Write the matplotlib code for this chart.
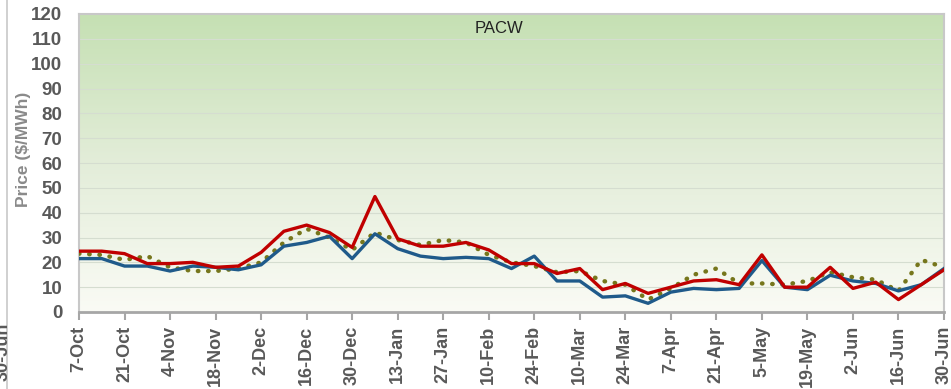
import numpy as np
import matplotlib
matplotlib.use("Agg")
import matplotlib.pyplot as plt
from matplotlib.colors import LinearSegmentedColormap

# weekly prices, 7-Oct to 30-Jun
weeks = ['7-Oct', '14-Oct', '21-Oct', '28-Oct', '4-Nov', '11-Nov', '18-Nov', '25-Nov',
         '2-Dec', '9-Dec', '16-Dec', '23-Dec', '30-Dec', '6-Jan', '13-Jan', '20-Jan',
         '27-Jan', '3-Feb', '10-Feb', '17-Feb', '24-Feb', '3-Mar', '10-Mar', '17-Mar',
         '24-Mar', '31-Mar', '7-Apr', '14-Apr', '21-Apr', '28-Apr', '5-May', '12-May',
         '19-May', '26-May', '2-Jun', '9-Jun', '16-Jun', '23-Jun', '30-Jun']

red_vals = [24.5, 24.5, 23.5, 19.5, 19.5, 20, 18, 18.5, 24, 32.5, 35, 32, 26, 46.5, 29.5, 26.5,
            26.5, 28, 25, 19.5, 19.5, 15.5, 17.5, 9, 11.5, 7.5, 10, 12.5, 13, 11, 23, 10,
            10, 18, 9.5, 12, 5, 11, 17]
blue_vals = [21.5, 21.5, 18.5, 18.5, 16.5, 18.5, 18, 17, 19, 26.5, 28, 30.5, 21.5, 31.5, 25.5, 22.5,
             21.5, 22, 21.5, 17.5, 22.5, 12.5, 12.5, 6, 6.5, 3.5, 8, 9.5, 9, 9.5, 20.7, 10,
             9, 14.8, 12.5, 11.5, 8.5, 11, 17.5]
olive_vals = [23.5, 23, 21, 22.5, 18, 16.5, 16.5, 17.5, 20, 28, 33.5, 30, 25, 32, 29, 27,
              29, 28, 23, 20, 18.5, 16, 16.5, 12.5, 11, 5, 9.5, 15, 17.5, 11.5, 11.5, 11,
              12.5, 16, 14, 13, 8.5, 21, 18]

yticks = list(range(0, 121, 10))

x = np.arange(len(weeks))
gray = '#595959'
fam = 'Liberation Sans'

fig = plt.figure(figsize=(9.51, 3.89), dpi=100)
ax = fig.add_axes([79 / 951, 1 - 312 / 389, (944 - 79) / 951, (312 - 14) / 389])

# green gradient background
cmap = LinearSegmentedColormap.from_list('bg', ['#FAFBF5', '#E3EDD9', '#C5E0B3'])
grad = np.linspace(0, 1, 256).reshape(-1, 1)
ax.imshow(grad, cmap=cmap, origin='lower', aspect='auto',
          extent=[0, len(weeks) - 1, 0, 120], zorder=0)

for v in yticks[1:]:
    ax.axhline(v, color='#D5DDD0', lw=0.8, zorder=1)

ax.plot(x, olive_vals, color='#76761C', lw=3.2, ls=(0, (0.1, 2.2)),
        dash_capstyle='round', zorder=3)
ax.plot(x, blue_vals, color='#1F5A8A', lw=2.4, zorder=4)
ax.plot(x, red_vals, color='#C00000', lw=2.4, zorder=5)

ax.set_xlim(0, len(weeks) - 1)
ax.set_ylim(0, 120)
ax.set_yticks(yticks)
ax.set_yticklabels([str(v) for v in yticks], fontsize=13.5, color=gray,
                   fontfamily=fam, fontweight='bold')
ax.set_xticks(x[::2])
ax.set_xticklabels(weeks[::2], rotation=90, fontsize=13, color=gray,
                   fontfamily=fam, fontweight='bold')
ax.tick_params(axis='y', length=0, pad=12)
ax.tick_params(axis='x', length=6, width=1.5, color='#A6A6A6', direction='out', pad=4)

for side in ['top', 'right', 'left']:
    ax.spines[side].set_color('#C8C8C8')
    ax.spines[side].set_linewidth(1.5)
ax.spines['bottom'].set_color('#A6A6A6')
ax.spines['bottom'].set_linewidth(2)

ax.set_ylabel('Price ($/MWh)', fontsize=12.5, color='#8A8A8A',
              fontfamily=fam, fontweight='bold')
ax.yaxis.set_label_coords(-0.056, 0.547)
ax.text(0.485, 0.95, 'PACW', transform=ax.transAxes, ha='center', va='center',
        fontsize=12, color='#222222', fontfamily=fam)

# edge of neighbouring chart
fig.add_artist(plt.Line2D([7 / 951, 7 / 951], [0, 1], color='#C8C8C8', lw=1.2))
fig.text(-0.006, 0.02, '30-Jun', rotation=90, fontsize=13, color=gray,
         fontfamily=fam, fontweight='bold', va='bottom')

fig.savefig('out.png', dpi=100)
